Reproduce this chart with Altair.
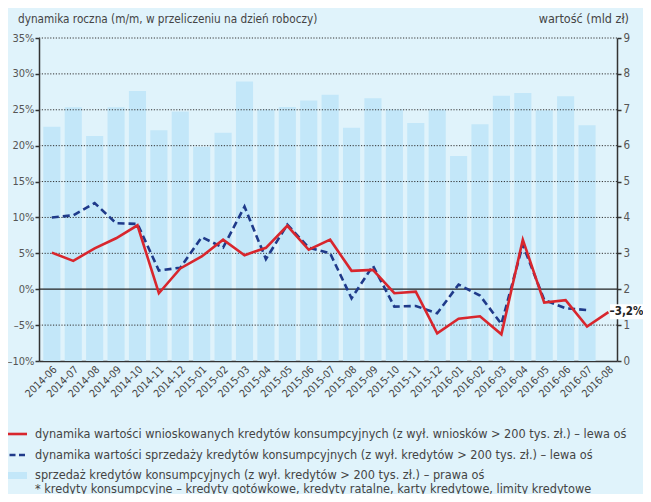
import altair as alt
import pandas as pd

months = ["2014-06", "2014-07", "2014-08", "2014-09", "2014-10", "2014-11", "2014-12",
          "2015-01", "2015-02", "2015-03", "2015-04", "2015-05", "2015-06", "2015-07",
          "2015-08", "2015-09", "2015-10", "2015-11", "2015-12", "2016-01", "2016-02",
          "2016-03", "2016-04", "2016-05", "2016-06", "2016-07", "2016-08"]

# sprzedaż kredytów konsumpcyjnych, mld zł (prawa oś)
sales = [6.53, 7.07, 6.27, 7.07, 7.52, 6.43, 6.95, 5.97, 6.36, 7.79, 7.01, 7.08, 7.26, 7.42,
         6.50, 7.32, 7.01, 6.63, 7.01, 5.71, 6.60, 7.39, 7.47, 6.99, 7.38, 6.57, None]

# dynamika wartości wnioskowanych kredytów (lewa oś, %)
applied = [5.1, 3.95, 5.7, 7.1, 8.9, -0.56, 2.9, 4.56, 6.9, 4.74, 5.77, 8.84, 5.5, 6.9,
           2.56, 2.7, -0.56, -0.33, -6.14, -4.1, -3.77, -6.28, 6.9, -1.86, -1.53, -5.2, -3.2]

# dynamika wartości sprzedaży kredytów (lewa oś, %)
sold = [10.0, 10.3, 12.0, 9.2, 9.1, 2.6, 3.0, 7.26, 5.8, 11.5, 4.2, 9.0, 5.8, 5.0,
        -1.26, 3.26, -2.42, -2.33, -3.35, 0.65, -0.88, -4.84, 6.2, -1.5, -2.65, -2.9, None]

left_ticks = [-10, -5, 0, 5, 10, 15, 20, 25, 30, 35]
right_ticks = [0, 1, 2, 3, 4, 5, 6, 7, 8, 9]
grid_ticks = [-5, 5, 10, 15, 20, 25, 30, 35]

left_title = "dynamika roczna (m/m, w przeliczeniu na dzień roboczy)"
right_title = "wartość (mld zł)"
legend_labels = [
    "dynamika wartości wnioskowanych kredytów konsumpcyjnych (z wył. wniosków > 200 tys. zł.) – lewa oś",
    "dynamika wartości sprzedaży kredytów konsumpcyjnych (z wył. kredytów > 200 tys. zł.) – lewa oś",
    "sprzedaż kredytów konsumpcyjnych (z wył. kredytów > 200 tys. zł.) – prawa oś",
]
footnote = "* kredyty konsumpcyjne – kredyty gotówkowe, kredyty ratalne, karty kredytowe, limity kredytowe"
end_label = "–3,2%"

FONT = "Liberation Sans Narrow, DejaVu Sans Condensed, sans-serif"
RED = "#d8262d"
NAVY = "#1f3a8a"
BAR = "#c3e7f9"
BG = "#e0f3fb"
TXT = "#444444"

df = pd.DataFrame({"month": months, "sales": sales, "applied": applied, "sold": sold})

x_axis = alt.Axis(title=None, labelAngle=-45, labelFontSize=10.5, labelColor=TXT, labelFont=FONT,
                  ticks=False, domainColor="#333333", domainWidth=1.5, labelPadding=3,
                  labelOverlap=False)
x_scale = alt.Scale(paddingInner=0.2, paddingOuter=0.1, align=1)


def xenc():
    return alt.X("month:N", sort=months, scale=x_scale, axis=x_axis)


left_scale = alt.Scale(domain=[-10, 35], nice=False, zero=False)
left_axis = alt.Axis(orient="left", values=left_ticks, title=None, grid=False,
                     labelExpr="(datum.value < 0 ? '\u2013' + abs(datum.value) : datum.value) + '%'",
                     labelColor="#555555", labelFontSize=11, labelFont=FONT, labelPadding=1,
                     domainColor="#333333", domainWidth=1.5, tickColor="#333333", tickSize=4,
                     tickWidth=1.5)
right_axis = alt.Axis(orient="right", values=right_ticks, title=None, grid=False,
                      labelColor="#555555", labelFontSize=11.5, labelFont=FONT, labelPadding=2,
                      domainColor="#333333", domainWidth=1.5, tickColor="#333333", tickSize=4,
                      tickWidth=1.5)

bars = alt.Chart(df).mark_bar(color=BAR).encode(
    x=xenc(),
    y=alt.Y("sales:Q", scale=alt.Scale(domain=[0, 9], nice=False, zero=True), axis=right_axis),
)

grid = alt.Chart(pd.DataFrame({"v": grid_ticks})).mark_rule(
    color="#333333", strokeDash=[1.2, 1.6], strokeWidth=1
).encode(y=alt.Y("v:Q", scale=left_scale, axis=left_axis))

zero = alt.Chart(pd.DataFrame({"v": [0]})).mark_rule(color="#222222", strokeWidth=1.3).encode(
    y=alt.Y("v:Q", scale=left_scale, axis=left_axis)
)

line_sold = alt.Chart(df).mark_line(color=NAVY, strokeWidth=2.6, strokeDash=[7, 4]).encode(
    x=xenc(), y=alt.Y("sold:Q", scale=left_scale, axis=left_axis)
)
line_applied = alt.Chart(df).mark_line(color=RED, strokeWidth=2.6).encode(
    x=xenc(), y=alt.Y("applied:Q", scale=left_scale, axis=left_axis)
)

last = pd.DataFrame({"v": [applied[-1]], "t": [end_label]})
label_box = alt.Chart(last).mark_rect(color="white", yOffset=-8, y2Offset=7).encode(
    x=alt.value(571), x2=alt.value(604),
    y=alt.Y("v:Q", scale=left_scale, axis=left_axis), y2="v:Q",
)
label_text = alt.Chart(last).mark_text(
    font=FONT, fontSize=11.5, fontWeight="bold", color="#222222", align="center", baseline="middle"
).encode(x=alt.value(587.5), y=alt.Y("v:Q", scale=left_scale, axis=left_axis), text="t:N")

left_group = alt.layer(grid, zero, line_sold, line_applied, label_box, label_text)


def txt(s, x, y, align="left", size=12.6):
    return alt.Chart(pd.DataFrame({"t": [s]})).mark_text(
        font=FONT, fontSize=size, color=TXT, align=align, baseline="middle"
    ).encode(x=alt.value(x), y=alt.value(y), text="t:N")


decor = [
    txt(left_title, -21, -19, size=11.7),
    txt(right_title, 590, -19, align="right", size=12.5),
    txt(legend_labels[0], -4, 396),
    txt(legend_labels[1], -4, 417),
    txt(legend_labels[2], -4, 437),
    txt(footnote, -4, 451),
    alt.Chart(pd.DataFrame({"a": [0]})).mark_rule(color=RED, strokeWidth=2.6).encode(
        x=alt.value(-39), x2=alt.value(-12), y=alt.value(396)),
    alt.Chart(pd.DataFrame({"a": [0]})).mark_rule(color=NAVY, strokeWidth=2.6, strokeDash=[6, 3.5]).encode(
        x=alt.value(-39), x2=alt.value(-12), y=alt.value(417)),
    alt.Chart(pd.DataFrame({"a": [0]})).mark_rect(color=BAR).encode(
        x=alt.value(-34), x2=alt.value(-12), y=alt.value(434), y2=alt.value(441)),
]

chart = alt.layer(bars, left_group, *decor).resolve_scale(y="independent").properties(
    width=578, height=323,
    autosize=alt.AutoSizeParams(type="none"),
    padding={"left": 31, "top": 30, "right": 26, "bottom": 133},
).configure(background=BG).configure_view(stroke=None)

chart.save("out.html", embed_options={"renderer": "svg", "actions": False})
